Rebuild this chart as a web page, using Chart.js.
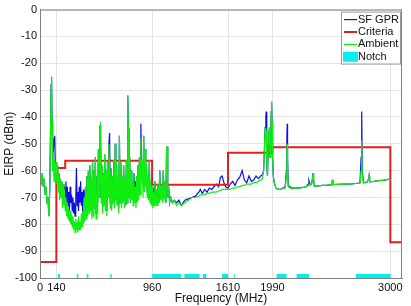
<!DOCTYPE html>
<html>
<head>
<meta charset="utf-8">
<script src="https://cdn.jsdelivr.net/npm/chart.js@4.4.0/dist/chart.umd.min.js"></script>
<style>
  html, body { margin: 0; padding: 0; background: #fff; }
  #wrap { width: 411px; height: 306px; }
</style>
</head>
<body>
<div id="wrap"><canvas id="grafico"></canvas></div>
<script>
// frequency points (MHz) shared by both measured traces
const freqs = [
  5, 12, 20, 28, 36, 44, 52, 60, 68, 76,
  84, 90, 95, 99, 103, 108, 114, 120, 126, 132,
  138, 144, 150, 156, 162, 168, 174, 180, 186, 192,
  198, 204, 210, 216, 222, 228, 234, 240, 246, 252,
  258, 264, 270, 276, 282, 288, 294, 300, 306, 312,
  318, 324, 330, 336, 342, 348, 354, 360, 366, 372,
  378, 384, 390, 396, 402, 408, 414, 420, 426, 432,
  438, 444, 450, 456, 462, 468, 474, 480, 488, 494,
  500, 506, 512, 518, 524, 530, 536, 542, 548, 554,
  560, 566, 572, 578, 584, 590, 596, 602, 608, 614,
  620, 626, 632, 638, 644, 650, 656, 662, 668, 674,
  680, 686, 692, 698, 704, 710, 716, 722, 728, 734,
  740, 746, 750, 753, 757, 762, 768, 774, 780, 786,
  792, 798, 804, 810, 816, 822, 828, 834, 840, 846,
  852, 858, 864, 870, 876, 882, 888, 894, 900, 906,
  912, 918, 924, 930, 936, 942, 948, 954, 960, 966,
  972, 978, 984, 990, 996, 1002, 1010, 1018, 1026, 1032,
  1040, 1048, 1056, 1062, 1070, 1078, 1084, 1088, 1094, 1102,
  1110, 1120, 1135, 1150, 1170, 1190, 1210, 1240, 1270, 1300,
  1330, 1360, 1373, 1390, 1410, 1430, 1450, 1470, 1490, 1510,
  1530, 1545, 1560, 1575, 1590, 1610, 1630, 1650, 1670, 1690,
  1710, 1731, 1750, 1770, 1790, 1810, 1830, 1850, 1870, 1890,
  1905, 1915, 1922, 1928, 1934, 1937, 1942, 1948, 1955, 1960,
  1966, 1970, 1976, 1980, 1983, 1987, 1992, 1998, 2006, 2020,
  2040, 2060, 2080, 2100, 2110, 2114, 2117, 2120, 2126, 2140,
  2160, 2200, 2240, 2280, 2296, 2303, 2310, 2325, 2333, 2338,
  2343, 2350, 2380, 2420, 2460, 2500, 2504, 2508, 2550, 2600,
  2650, 2700, 2740, 2750, 2755, 2760, 2770, 2800, 2815, 2818,
  2823, 2860, 2900, 2950, 2990, 3004
];

const sfGpr = [
  -62, -64, -61, -66, -63, -69, -66, -72, -70, -77,
  -66, -46, -28, -25, -41, -60, -53, -48, -47, -60,
  -57, -62, -58, -64, -61, -66, -63, -67, -64, -68,
  -65, -70, -66, -70, -64, -72, -66, -73, -68, -75,
  -66, -72, -69, -75, -70, -76, -72, -77, -71, -59,
  -73, -68, -75, -66, -72, -64, -73, -68, -76, -67,
  -70, -70, -66, -73, -62, -72, -60, -74, -58, -72,
  -63, -70, -57, -74, -60, -74, -55, -76, -62, -72,
  -52, -70, -44, -43, -70, -58, -74, -61, -73, -54,
  -72, -60, -75, -57, -68, -50, -46, -72, -59, -73,
  -62, -70, -56, -74, -50, -71, -58, -73, -63, -74,
  -47, -72, -57, -72, -62, -72, -58, -70, -63, -73,
  -56, -72, -38, -32, -44, -70, -55, -72, -60, -67,
  -64, -70, -61, -66, -64, -70, -62, -68, -58, -66,
  -55, -62, -42.5, -60, -56, -65, -47, -66, -52, -63,
  -58, -68, -62, -69, -56, -70, -64, -71, -66, -70,
  -68, -71, -64, -72, -67, -72, -65, -72, -60, -70,
  -66, -71, -60, -70, -64, -72, -52, -51, -70, -66,
  -72, -70, -72, -71, -72, -71, -73, -71, -70.5, -70,
  -69.5, -68, -67, -68.5, -67, -68, -66.5, -67, -66, -65,
  -66, -62.5, -62, -64.5, -66, -66.5, -65, -64, -65.5, -63.5,
  -62.5, -60, -63.5, -64.5, -62, -64, -63.5, -62, -63, -62,
  -61.5, -60, -52, -44, -40, -38, -58, -62, -50, -46,
  -44, -55, -47, -38, -34.3, -42, -55, -62, -64.5, -66.5,
  -67, -67, -66.5, -66, -60, -47, -42.5, -55, -65.5, -66,
  -66.5, -66.5, -66.3, -66, -65, -63.7, -65, -65, -63, -61,
  -63.5, -65.8, -65.7, -65.5, -65.4, -65.2, -63.4, -65.2, -65.1, -65,
  -65, -64.8, -64.6, -55, -38, -60, -64.5, -64.3, -63, -62,
  -64.2, -64, -63.7, -63.5, -63.2, -63.5
];

const ambient = [
  -62, -64, -61, -66, -63, -69, -66, -72, -70, -77,
  -66, -46, -28, -25, -41, -60, -53, -64, -56, -62,
  -57, -65, -58, -68, -61, -71, -63, -70, -64, -74,
  -65, -73, -67, -75, -70, -77, -72, -78, -74, -79,
  -75, -80, -76, -81, -77, -82, -79, -83, -78, -82,
  -80, -83, -77, -82, -79, -82, -76, -81, -75, -80,
  -70, -79, -66, -78, -62, -77, -60, -76, -58, -75,
  -63, -78, -57, -77, -60, -74, -55, -78, -62, -76,
  -52, -70, -44, -43, -72, -58, -76, -61, -73, -54,
  -75, -60, -77, -57, -70, -50, -60, -74, -59, -75,
  -62, -72, -56, -74, -50, -71, -58, -73, -63, -76,
  -47, -72, -57, -74, -62, -72, -58, -74, -63, -73,
  -56, -72, -38, -32, -44, -70, -55, -72, -60, -71,
  -64, -73, -61, -72, -66, -74, -62, -72, -58, -71,
  -55, -69, -48, -64, -56, -70, -47, -68, -52, -66,
  -58, -70, -62, -71, -56, -72, -64, -73, -66, -74,
  -68, -73, -64, -73, -67, -73, -65, -72, -60, -71,
  -66, -72, -60, -71, -64, -72, -52, -51, -70, -66,
  -72, -70, -72, -71, -73, -72, -73, -72, -71, -70,
  -70, -69.5, -69, -69, -69, -68.5, -68.5, -68, -68, -68,
  -67.5, -67.5, -67, -67, -67, -67, -67, -66.5, -66.5, -66,
  -66, -65.5, -65.5, -65, -65, -65, -64.5, -64.5, -64, -63.5,
  -63, -60, -52, -44, -48, -45, -58, -62, -50, -46,
  -44, -55, -47, -38, -34.3, -42, -55, -62, -64.5, -66.5,
  -67, -67, -66.5, -66.5, -62, -52, -50, -60, -66, -66.5,
  -66.5, -66.5, -66.3, -66, -65.5, -65, -65.5, -65, -63, -61,
  -63.5, -65.8, -65.7, -65.5, -65.4, -65.2, -63.4, -65.2, -65.1, -65,
  -65, -64.8, -64.6, -60, -48.7, -62, -64.5, -64.3, -63, -62,
  -64.2, -64, -63.7, -63.5, -63.2, -63.5
];

// criteria limit: level i holds from critEdges[i] to critEdges[i+1]
const critEdges = [0, 140, 216, 960, 1610, 1990, 3000, 3100];
const critLevels = [-94, -59, -56.3, -65.3, -53.3, -51.3, -86.7];

// notched bands (MHz)
const notchStart = [150, 315, 400, 602, 960, 1236, 1396, 1559, 1660, 2026, 2197, 2704];
const notchEnd = [172, 328, 415, 614, 1210, 1367, 1425, 1611, 1668, 2112, 2303, 3004];
const notchTop = -98.5;

const xTicks = [0, 140, 960, 1610, 1990, 3000];

const FONT = "'Liberation Sans', Arial, sans-serif";

const gprPts = freqs.map((f, i) => ({ x: f, y: sfGpr[i] }));
const ambPts = freqs.map((f, i) => ({ x: f, y: ambient[i] }));
const critPts = critEdges.map((f, i) => ({ x: f, y: critLevels[Math.min(i, critLevels.length - 1)] }));
const notchPts = [];
notchStart.forEach((s, i) => {
  notchPts.push({ x: s, y: -100 }, { x: s, y: notchTop }, { x: notchEnd[i], y: notchTop }, { x: notchEnd[i], y: -100 });
});

// axes box like matlab
const frame = {
  id: 'frame',
  afterDatasetsDraw(chart) {
    const a = chart.chartArea, ctx = chart.ctx;
    ctx.save();
    ctx.strokeStyle = '#808080';
    ctx.lineWidth = 1;
    ctx.strokeRect(a.left + 0.5, a.top + 0.5, a.right - a.left - 1, a.bottom - a.top);
    ctx.restore();
  }
};

// legend box in the top right corner of the plot
const legendBox = {
  id: 'legendBox',
  afterDraw(chart) {
    const a = chart.chartArea, ctx = chart.ctx;
    const x = a.right - 61, y = a.top + 2, w = 59, h = 52;
    ctx.save();
    ctx.fillStyle = '#fff';
    ctx.fillRect(x, y, w, h);
    ctx.strokeStyle = '#9a9a9a';
    ctx.lineWidth = 1;
    ctx.strokeRect(x + 0.5, y + 0.5, w, h);
    ctx.font = '11px ' + FONT;
    ctx.textBaseline = 'middle';
    chart.data.datasets.forEach((ds, i) => {
      const cy = y + 8 + i * 12.4;
      if (ds.fill) {
        ctx.fillStyle = ds.backgroundColor;
        ctx.fillRect(x + 2, cy - 5, 15, 10);
      } else {
        ctx.strokeStyle = ds.borderColor;
        ctx.lineWidth = ds.borderWidth;
        ctx.beginPath();
        ctx.moveTo(x + 3, cy);
        ctx.lineTo(x + 16, cy);
        ctx.stroke();
      }
      ctx.fillStyle = '#111';
      ctx.fillText(ds.label, x + 17, cy);
    });
    ctx.restore();
  }
};

const grafico = document.getElementById('grafico');

const data = {
  datasets: [{
    label: 'SF GPR',
    data: gprPts,
    borderColor: '#1010e0',
    borderWidth: 1.2,
    pointRadius: 0,
    order: 2
  }, {
    label: 'Criteria',
    data: critPts,
    borderColor: '#e0201c',
    borderWidth: 2,
    stepped: 'before',
    pointRadius: 0,
    order: 1
  }, {
    label: 'Ambient',
    data: ambPts,
    borderColor: '#10ee10',
    borderWidth: 1.2,
    pointRadius: 0,
    order: 0
  }, {
    label: 'Notch',
    data: notchPts,
    borderWidth: 0,
    borderColor: 'rgba(0,0,0,0)',
    backgroundColor: '#00f0f0',
    fill: 'start',
    pointRadius: 0,
    order: 3
  }]
};

const config = {
  type: 'line',
  data: data,
  options: {
    responsive: true,
    maintainAspectRatio: false,
    animation: false,
    layout: { padding: { top: 6, right: 9, left: 0, bottom: 0 } },
    plugins: {
      legend: { display: false },
      tooltip: { enabled: false }
    },
    scales: {
      x: {
        type: 'linear',
        min: 0,
        max: 3100,
        afterBuildTicks: (axis) => { axis.ticks = xTicks.map(v => ({ value: v })); },
        afterFit: (s) => { s.height = 28; },
        grid: { color: '#e4e4e4', drawTicks: false },
        border: { color: '#808080' },
        ticks: {
          autoSkip: false,
          maxRotation: 0,
          padding: 3,
          color: '#111',
          callback: (v) => String(v),
          font: { size: 11, family: FONT }
        },
        title: {
          display: true,
          text: 'Frequency (MHz)',
          color: '#111',
          padding: { top: 0, bottom: 0 },
          font: { size: 12, family: FONT }
        }
      },
      y: {
        min: -100,
        max: 0,
        afterFit: (s) => { s.width = 40; },
        grid: { color: '#e4e4e4', drawTicks: false },
        border: { color: '#808080' },
        ticks: {
          stepSize: 10,
          padding: 3,
          color: '#111',
          callback: (v) => String(v),
          font: { size: 11, family: FONT }
        },
        title: {
          display: true,
          text: 'EIRP (dBm)',
          color: '#111',
          padding: { top: 2, bottom: 0 },
          font: { size: 12, family: FONT }
        }
      }
    }
  },
  plugins: [frame, legendBox]
};

const grafico_1 = new Chart(grafico, config);
</script>
</body>
</html>
